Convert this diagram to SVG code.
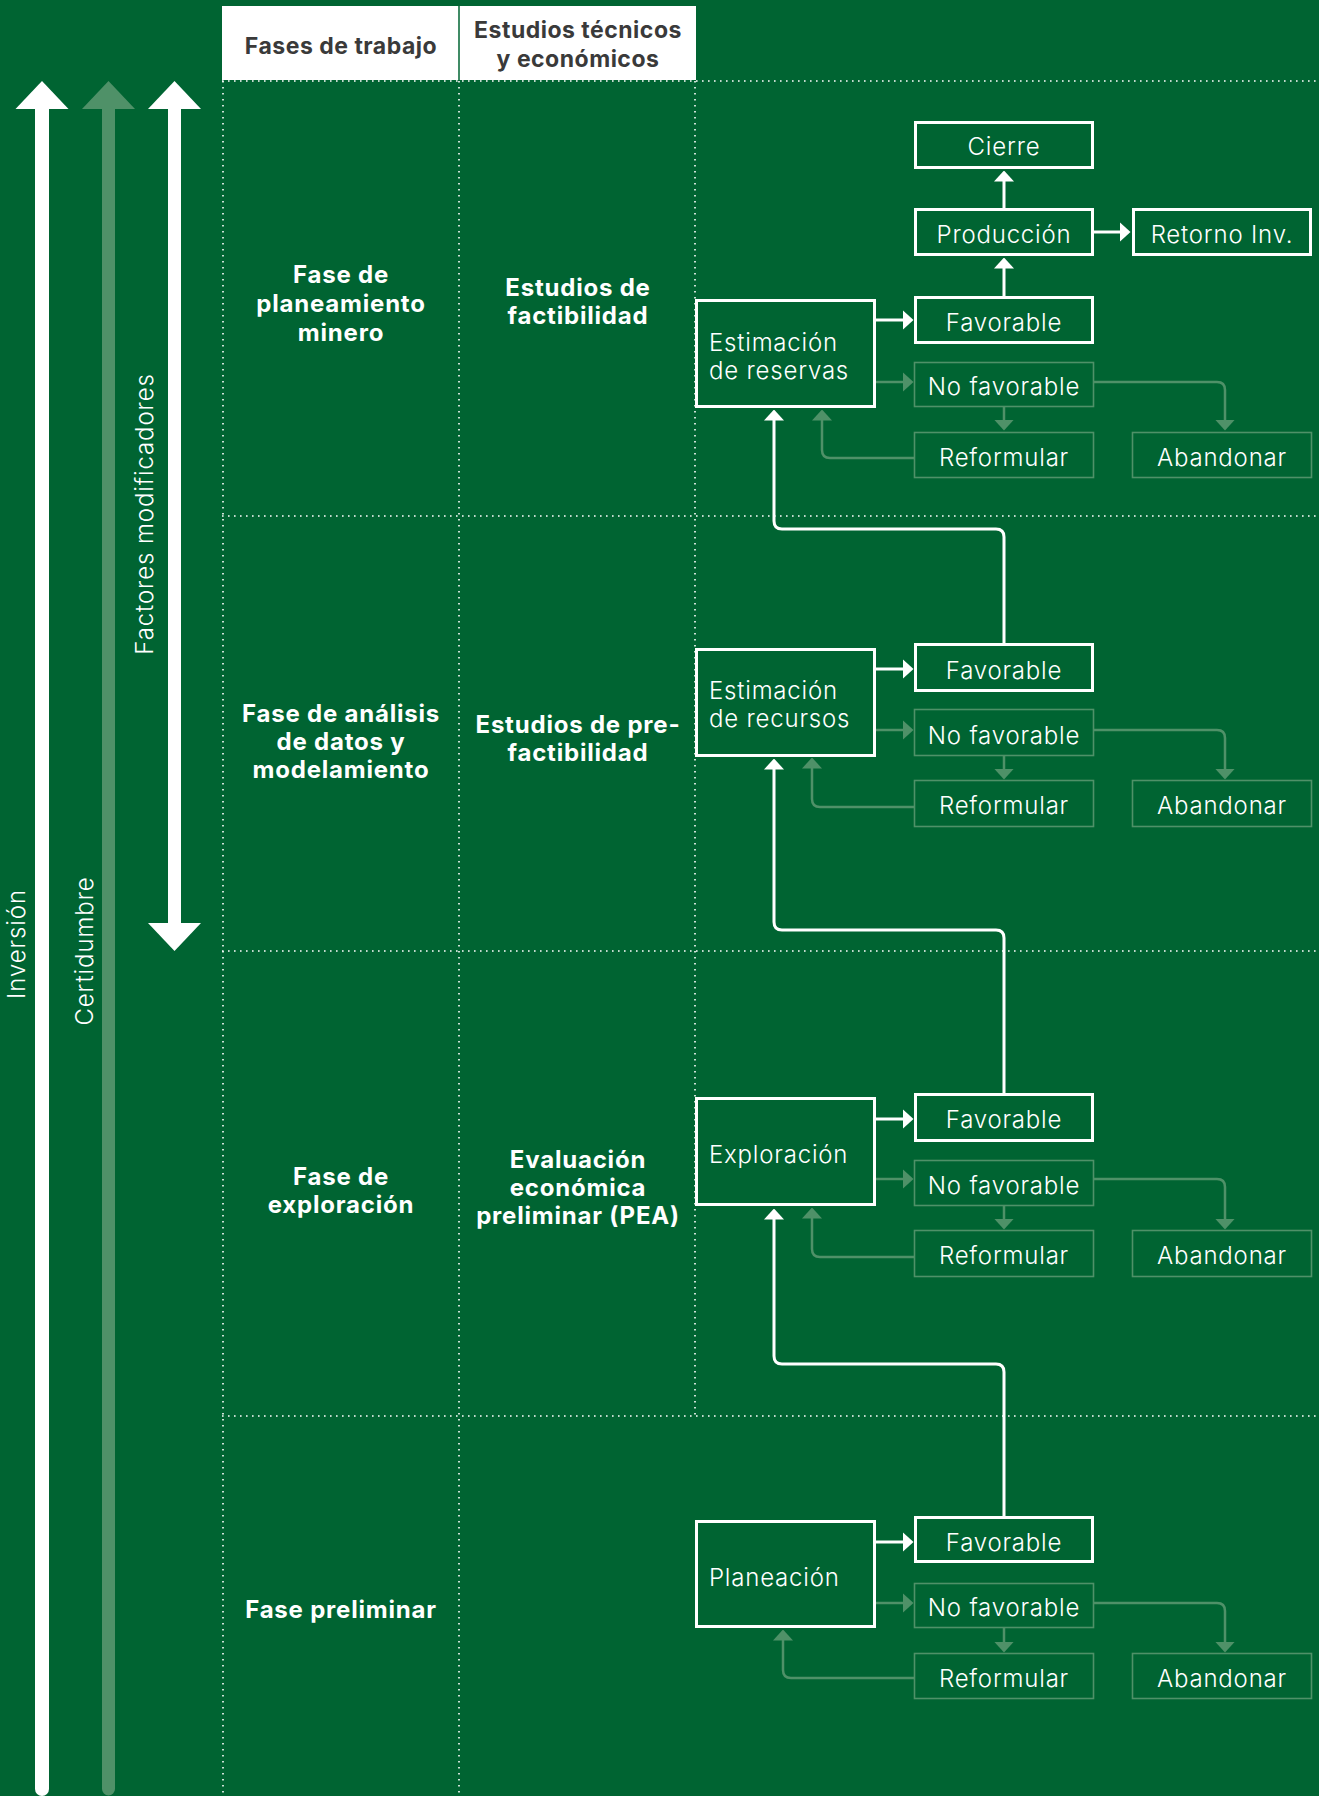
<svg xmlns="http://www.w3.org/2000/svg" width="1319" height="1796" viewBox="0 0 1319 1796">
<style>
.bg{fill:#006432}
.dot{stroke:#fff;stroke-width:1.6;stroke-dasharray:1.6 4.4;fill:none}
.wb{fill:none;stroke:#fff;stroke-width:3}
.fb{fill:none;stroke:#4f9168;stroke-width:1.6}
.wl{fill:none;stroke:#fff;stroke-width:3}
.fl{fill:none;stroke:#4f9168;stroke-width:2.5}
.t{font-family:Inter,"Open Sans",sans-serif;font-weight:300;font-size:24px;letter-spacing:0.8px;fill:#fff;text-anchor:middle}
.tl{font-family:Inter,"Open Sans",sans-serif;font-weight:300;font-size:24px;letter-spacing:0.8px;fill:#fff}
.b{font-family:Inter,"Open Sans",sans-serif;font-weight:700;font-size:24px;letter-spacing:0.8px;fill:#fff;text-anchor:middle}
.h{font-family:Inter,"Open Sans",sans-serif;font-weight:700;font-size:23px;letter-spacing:0.5px;fill:#3a3a3a;text-anchor:middle}
.r{font-family:Inter,"Open Sans",sans-serif;font-weight:300;font-size:24px;letter-spacing:0.9px;fill:#fff;text-anchor:middle}
</style>
<defs>
<marker id="aw" viewBox="0 -10 11 20" markerWidth="11" markerHeight="20" refX="0.5" refY="0" orient="auto" markerUnits="userSpaceOnUse"><path d="M0,-10 L11,0 L0,10 Z" fill="#fff"/></marker>
<marker id="af" viewBox="0 -10 11 20" markerWidth="11" markerHeight="20" refX="0.5" refY="0" orient="auto" markerUnits="userSpaceOnUse"><path d="M0,-10 L11,0 L0,10 Z" fill="#4f9168"/></marker>
</defs>
<rect class="bg" x="0" y="0" width="1319" height="1796"/>

<g id="header">
<rect x="222" y="6" width="474" height="74" fill="#fff"/>
<line x1="459" y1="6" x2="459" y2="80" stroke="#006432" stroke-width="1.5"/>
<text class="h" x="341" y="54">Fases de trabajo</text>
<text class="h" x="578" y="38">Estudios técnicos</text>
<text class="h" x="578" y="67">y económicos</text>
</g>

<g id="grid">
<line class="dot" x1="222" y1="81" x2="1319" y2="81"/>
<line class="dot" x1="222" y1="516" x2="1319" y2="516"/>
<line class="dot" x1="222" y1="951" x2="1319" y2="951"/>
<line class="dot" x1="222" y1="1416" x2="1319" y2="1416"/>
<line class="dot" x1="223" y1="81" x2="223" y2="1796"/>
<line class="dot" x1="459" y1="81" x2="459" y2="1796"/>
<line class="dot" x1="695" y1="81" x2="695" y2="1416"/>
</g>

<g id="axis-inversion">
<path d="M35,109 H49 V1789 A7,7 0 0 1 35,1789 Z" fill="#fff"/>
<path d="M15.5,109 L42,81 L68.5,109 Z" fill="#fff"/>
<text class="r" transform="translate(25,944) rotate(-90)">Inversión</text>
</g>
<g id="axis-certidumbre">
<path d="M102,109 H115 V1789 A6.5,6.5 0 0 1 102,1789 Z" fill="#4f9168"/>
<path d="M82,109 L108.5,81 L135,109 Z" fill="#4f9168"/>
<text class="r" transform="translate(93,951) rotate(-90)">Certidumbre</text>
</g>
<g id="axis-factores">
<rect x="168" y="108" width="13" height="816" fill="#fff"/>
<path d="M148,109 L174.5,81 L201,109 Z" fill="#fff"/>
<path d="M148,923 L174.5,951 L201,923 Z" fill="#fff"/>
<text class="r" transform="translate(153,514) rotate(-90)">Factores modificadores</text>
</g>

<g id="phase-labels">
<text class="b" x="341" y="283">Fase de</text>
<text class="b" x="341" y="312">planeamiento</text>
<text class="b" x="341" y="341">minero</text>
<text class="b" x="578" y="296">Estudios de</text>
<text class="b" x="578" y="324">factibilidad</text>
<text class="b" x="341" y="722">Fase de análisis</text>
<text class="b" x="341" y="750">de datos y</text>
<text class="b" x="341" y="778">modelamiento</text>
<text class="b" x="578" y="733">Estudios de pre-</text>
<text class="b" x="578" y="761">factibilidad</text>
<text class="b" x="341" y="1185">Fase de</text>
<text class="b" x="341" y="1213">exploración</text>
<text class="b" x="578" y="1168">Evaluación</text>
<text class="b" x="578" y="1196">económica</text>
<text class="b" x="578" y="1224">preliminar (PEA)</text>
<text class="b" x="341" y="1618">Fase preliminar</text>
</g>

<g id="connectors">
<line class="wl" x1="1004" y1="208" x2="1004" y2="181" marker-end="url(#aw)"/>
<line class="wl" x1="1094" y1="232" x2="1120" y2="232" marker-end="url(#aw)"/>
<line class="wl" x1="1004" y1="296" x2="1004" y2="268" marker-end="url(#aw)"/>
<line class="wl" x1="876" y1="320" x2="903" y2="320" marker-end="url(#aw)"/>
<line class="wl" x1="876" y1="669" x2="903" y2="669" marker-end="url(#aw)"/>
<line class="wl" x1="876" y1="1119" x2="903" y2="1119" marker-end="url(#aw)"/>
<line class="wl" x1="876" y1="1542" x2="903" y2="1542" marker-end="url(#aw)"/>
<path class="wl" d="M1004,643 V537 Q1004,529 996,529 H782 Q774,529 774,521 V420" marker-end="url(#aw)"/>
<path class="wl" d="M1004,1093 V938 Q1004,930 996,930 H782 Q774,930 774,922 V769" marker-end="url(#aw)"/>
<path class="wl" d="M1004,1516 V1372 Q1004,1364 996,1364 H782 Q774,1364 774,1356 V1219" marker-end="url(#aw)"/>

<line class="fl" x1="876" y1="382" x2="903" y2="382" marker-end="url(#af)"/>
<line class="fl" x1="1004" y1="407" x2="1004" y2="420" marker-end="url(#af)"/>
<path class="fl" d="M1094,382 H1217 Q1225,382 1225,390 V420" marker-end="url(#af)"/>
<path class="fl" d="M914,458 H830 Q822,458 822,450 V420" marker-end="url(#af)"/>

<line class="fl" x1="876" y1="730" x2="903" y2="730" marker-end="url(#af)"/>
<line class="fl" x1="1004" y1="756" x2="1004" y2="769" marker-end="url(#af)"/>
<path class="fl" d="M1094,730 H1217 Q1225,730 1225,738 V769" marker-end="url(#af)"/>
<path class="fl" d="M914,807 H820 Q812,807 812,799 V768" marker-end="url(#af)"/>

<line class="fl" x1="876" y1="1179" x2="903" y2="1179" marker-end="url(#af)"/>
<line class="fl" x1="1004" y1="1206" x2="1004" y2="1219" marker-end="url(#af)"/>
<path class="fl" d="M1094,1179 H1217 Q1225,1179 1225,1187 V1219" marker-end="url(#af)"/>
<path class="fl" d="M914,1257 H820 Q812,1257 812,1249 V1218" marker-end="url(#af)"/>

<line class="fl" x1="876" y1="1603" x2="903" y2="1603" marker-end="url(#af)"/>
<line class="fl" x1="1004" y1="1628" x2="1004" y2="1642" marker-end="url(#af)"/>
<path class="fl" d="M1094,1603 H1217 Q1225,1603 1225,1611 V1642" marker-end="url(#af)"/>
<path class="fl" d="M914,1678 H791 Q783,1678 783,1670 V1640" marker-end="url(#af)"/>
</g>

<g id="n-cierre"><rect class="wb" x="915.5" y="122.5" width="177" height="45"/><text class="t" x="1004" y="155">Cierre</text></g>
<g id="n-produccion"><rect class="wb" x="915.5" y="209.5" width="177" height="45"/><text class="t" x="1004" y="243">Producción</text></g>
<g id="n-retorno"><rect class="wb" x="1133.5" y="209.5" width="177" height="45"/><text class="t" x="1222" y="243">Retorno Inv.</text></g>

<g id="n-est-reservas"><rect class="wb" x="696.5" y="300.5" width="178" height="106"/><text class="tl" x="709" y="351">Estimación</text><text class="tl" x="709" y="379">de reservas</text></g>
<g id="n-fav1"><rect class="wb" x="915.5" y="297.5" width="177" height="45"/><text class="t" x="1004" y="331">Favorable</text></g>
<g id="n-nofav1"><rect class="fb" x="914.5" y="362.5" width="179" height="44"/><text class="t" x="1004" y="395">No favorable</text></g>
<g id="n-ref1"><rect class="fb" x="914.5" y="432.5" width="179" height="45"/><text class="t" x="1004" y="466">Reformular</text></g>
<g id="n-ab1"><rect class="fb" x="1132.5" y="432.5" width="179" height="45"/><text class="t" x="1222" y="466">Abandonar</text></g>

<g id="n-est-recursos"><rect class="wb" x="696.5" y="649.5" width="178" height="106"/><text class="tl" x="709" y="699">Estimación</text><text class="tl" x="709" y="727">de recursos</text></g>
<g id="n-fav2"><rect class="wb" x="915.5" y="644.5" width="177" height="46"/><text class="t" x="1004" y="679">Favorable</text></g>
<g id="n-nofav2"><rect class="fb" x="914.5" y="709.5" width="179" height="46"/><text class="t" x="1004" y="744">No favorable</text></g>
<g id="n-ref2"><rect class="fb" x="914.5" y="780.5" width="179" height="46"/><text class="t" x="1004" y="814">Reformular</text></g>
<g id="n-ab2"><rect class="fb" x="1132.5" y="780.5" width="179" height="46"/><text class="t" x="1222" y="814">Abandonar</text></g>

<g id="n-exploracion"><rect class="wb" x="696.5" y="1098.5" width="178" height="106"/><text class="tl" x="709" y="1163">Exploración</text></g>
<g id="n-fav3"><rect class="wb" x="915.5" y="1094.5" width="177" height="46"/><text class="t" x="1004" y="1128">Favorable</text></g>
<g id="n-nofav3"><rect class="fb" x="914.5" y="1160.5" width="179" height="45"/><text class="t" x="1004" y="1194">No favorable</text></g>
<g id="n-ref3"><rect class="fb" x="914.5" y="1230.5" width="179" height="46"/><text class="t" x="1004" y="1264">Reformular</text></g>
<g id="n-ab3"><rect class="fb" x="1132.5" y="1230.5" width="179" height="46"/><text class="t" x="1222" y="1264">Abandonar</text></g>

<g id="n-planeacion"><rect class="wb" x="696.5" y="1521.5" width="178" height="105"/><text class="tl" x="709" y="1586">Planeación</text></g>
<g id="n-fav4"><rect class="wb" x="915.5" y="1517.5" width="177" height="44"/><text class="t" x="1004" y="1551">Favorable</text></g>
<g id="n-nofav4"><rect class="fb" x="914.5" y="1583.5" width="179" height="44"/><text class="t" x="1004" y="1616">No favorable</text></g>
<g id="n-ref4"><rect class="fb" x="914.5" y="1653.5" width="179" height="45"/><text class="t" x="1004" y="1687">Reformular</text></g>
<g id="n-ab4"><rect class="fb" x="1132.5" y="1653.5" width="179" height="45"/><text class="t" x="1222" y="1687">Abandonar</text></g>
</svg>
